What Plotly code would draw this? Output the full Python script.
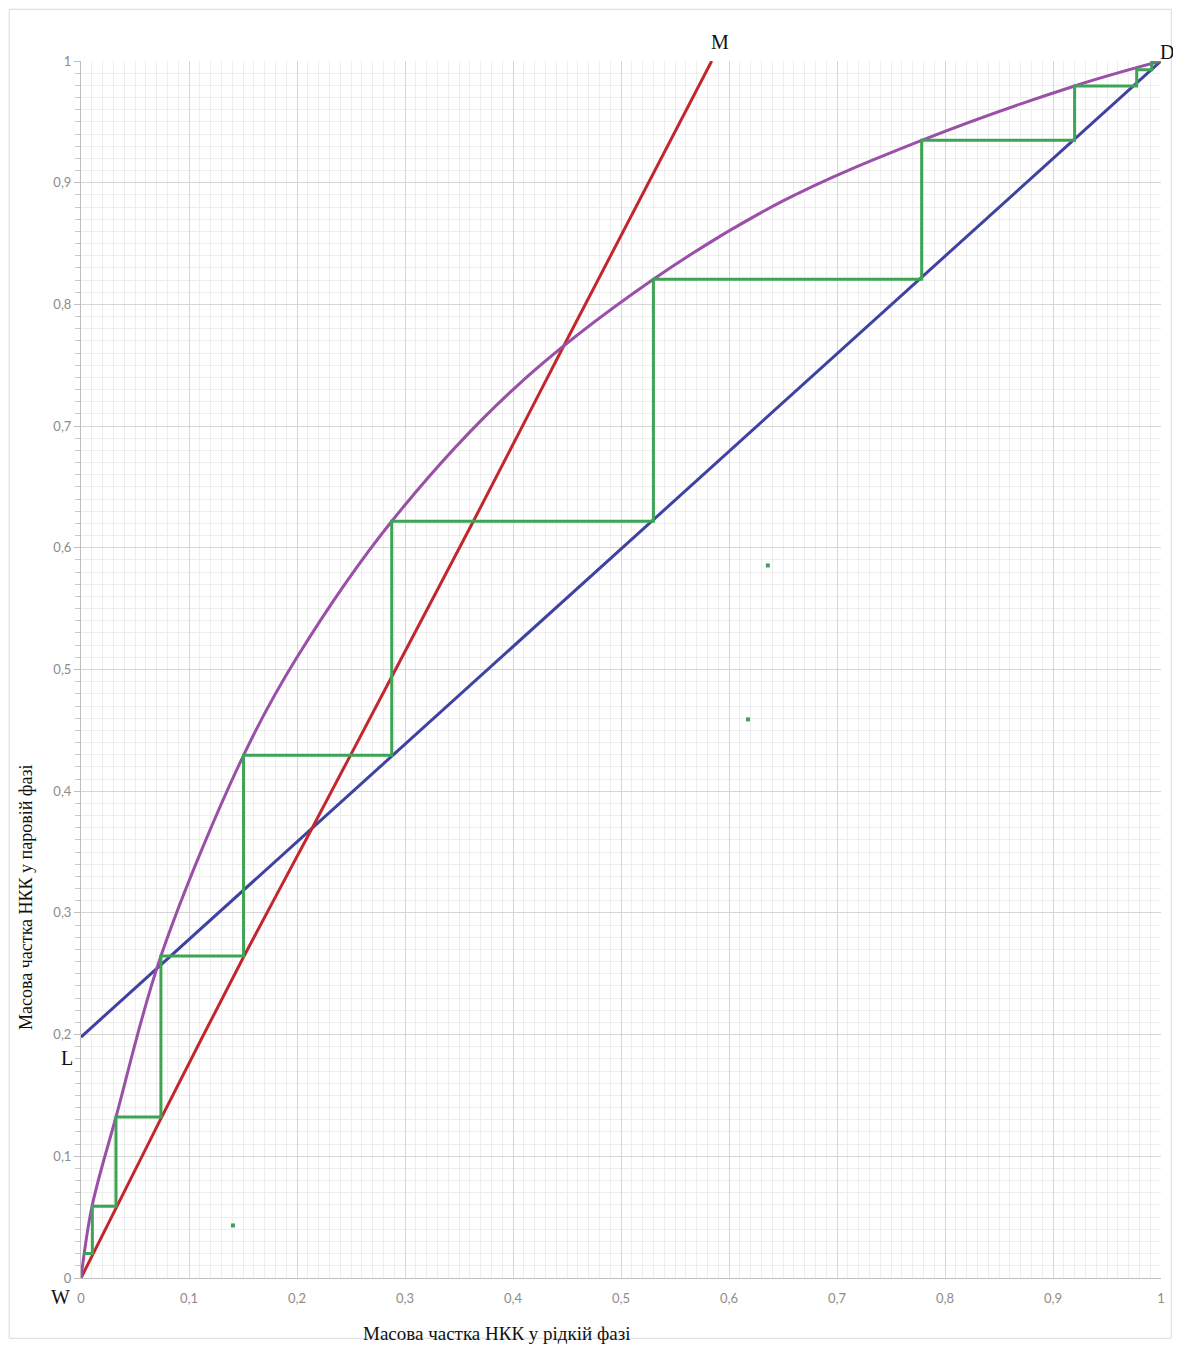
import plotly.graph_objects as go

# ---------------- data ----------------
# equilibrium curve (purple)
eq_x = [0.0, 0.0102, 0.0324, 0.0740, 0.1505, 0.200, 0.2877, 0.400, 0.530, 0.650, 0.7784, 0.920, 1.0]
eq_y = [0.0, 0.0589, 0.1323, 0.2646, 0.4295, 0.510, 0.6218, 0.730, 0.8206, 0.885, 0.9348, 0.9795, 1.0]

# rectifying operating line (blue), L -> D
rect_x = [0.0, 1.0]
rect_y = [0.198, 1.0]

# stripping operating line (red), W -> M
strip_x = [0.0, 0.0740, 0.151, 0.2136, 0.2877, 0.3633, 0.4497, 0.584]
strip_y = [0.0, 0.1310, 0.2646, 0.369, 0.494, 0.6218, 0.7705, 1.0]

# staircase of theoretical stages (green)
step_x = [1.0, 0.9914, 0.9914, 0.9775, 0.9775, 0.920, 0.920, 0.7784, 0.7784, 0.530, 0.530,
          0.2877, 0.2877, 0.1505, 0.1505, 0.0740, 0.0740, 0.0324, 0.0324, 0.0105, 0.0105, 0.002]
step_y = [1.0, 1.0, 0.9929, 0.9929, 0.9795, 0.9795, 0.9348, 0.9348, 0.8206, 0.8206, 0.6218,
          0.6218, 0.4295, 0.4295, 0.2646, 0.2646, 0.1323, 0.1323, 0.0589, 0.0589, 0.0201, 0.0201]

# stray green specks
speck_x = [0.1407, 0.6176, 0.636]
speck_y = [0.0432, 0.459, 0.5855]

tick_vals = [0, 0.1, 0.2, 0.3, 0.4, 0.5, 0.6, 0.7, 0.8, 0.9, 1]
tick_text = ["0", "0,1", "0,2", "0,3", "0,4", "0,5", "0,6", "0,7", "0,8", "0,9", "1"]

point_labels = ["M", "D", "L", "W"]
point_lx = [0.592, 1.006, -0.013, -0.019]
point_ly = [1.016, 1.007, 0.181, -0.016]

x_title = "Масова частка НКК у рідкій фазі"
y_title = "Масова частка НКК у паровій фазі"

# ---------------- figure ----------------
PURPLE = "#9b50a8"
RED = "#c3272d"
BLUE = "#3f42a0"
GREEN = "#3da455"

fig = go.Figure()
fig.add_trace(go.Scatter(x=rect_x, y=rect_y, mode="lines",
                         line=dict(color=BLUE, width=3), cliponaxis=False, showlegend=False))
fig.add_trace(go.Scatter(x=strip_x, y=strip_y, mode="lines",
                         line=dict(color=RED, width=3, shape="spline", smoothing=0.6),
                         cliponaxis=False, showlegend=False))
fig.add_trace(go.Scatter(x=eq_x, y=eq_y, mode="lines",
                         line=dict(color=PURPLE, width=3, shape="spline", smoothing=1.0),
                         cliponaxis=False, showlegend=False))
fig.add_trace(go.Scatter(x=step_x, y=step_y, mode="lines",
                         line=dict(color=GREEN, width=3), cliponaxis=False, showlegend=False))
fig.add_trace(go.Scatter(x=speck_x, y=speck_y, mode="markers",
                         marker=dict(color=GREEN, size=4, symbol="square"),
                         showlegend=False))

# point labels (axes span 0..1, so paper coords coincide with data coords)
for t, lx, ly in zip(point_labels, point_lx, point_ly):
    fig.add_annotation(xref="paper", yref="paper", x=lx, y=ly, text=t, showarrow=False,
                       xanchor="center", yanchor="middle",
                       font=dict(family="Liberation Serif", size=20, color="#111111"))

fig.add_annotation(xref="paper", yref="paper", x=0.385, y=-0.0455, text=x_title,
                   showarrow=False, yanchor="middle",
                   font=dict(family="Liberation Serif", size=19, color="#111111"))
fig.add_annotation(xref="paper", yref="paper", x=-0.051, y=0.313, text=y_title,
                   showarrow=False, textangle=-90, xanchor="center", yanchor="middle",
                   font=dict(family="Liberation Serif", size=18, color="#111111"))

# outer thin frame
fig.add_shape(type="rect", xref="paper", yref="paper",
              x0=-0.0665, x1=1.0095, y0=-0.0495, y1=1.0425,
              line=dict(color="#d9d9d9", width=1))

grid_major = "#d6d6d6"
grid_minor = "#eeeeee"

fig.update_xaxes(range=[0, 1], tickvals=tick_vals, ticktext=tick_text,
                 showgrid=True, gridcolor=grid_major, gridwidth=1,
                 showline=True, linecolor="#bfbfbf", linewidth=1,
                 ticks="", zeroline=False,
                 tickfont=dict(family="Lato", size=13, color="#8c8c8c"),
                 ticklabelstandoff=8,
                 minor=dict(dtick=0.01, showgrid=True, gridcolor=grid_minor, gridwidth=1))
fig.update_yaxes(range=[0, 1], tickvals=tick_vals, ticktext=tick_text,
                 showgrid=True, gridcolor=grid_major, gridwidth=1,
                 showline=True, linecolor="#bfbfbf", linewidth=1,
                 ticks="outside", ticklen=6, tickcolor="#bfbfbf", zeroline=False,
                 tickfont=dict(family="Lato", size=13, color="#8c8c8c"),
                 minor=dict(dtick=0.01, showgrid=True, gridcolor=grid_minor, gridwidth=1,
                            ticks="outside", ticklen=5, tickcolor="#c8c8c8"))

fig.update_layout(width=1173, height=1340,
                  margin=dict(l=73, r=20, t=53, b=70),
                  plot_bgcolor="white", paper_bgcolor="white",
                  separators=", ")

fig.write_html("out.html")
